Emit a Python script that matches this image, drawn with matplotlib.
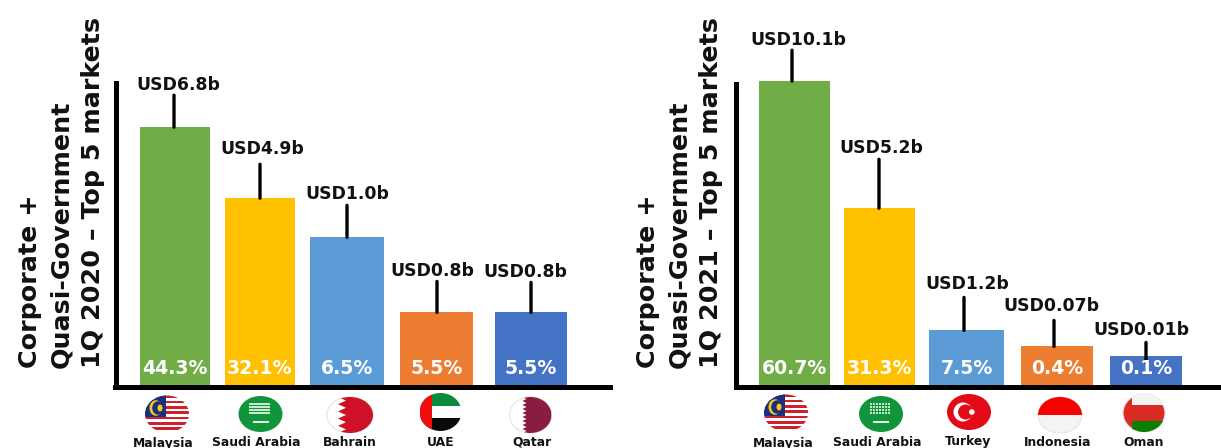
import numpy as np
import matplotlib
matplotlib.use('Agg')
import matplotlib.pyplot as plt
from matplotlib.patches import Ellipse, Rectangle, Polygon, Circle
from matplotlib.transforms import offset_copy

W, H = 1221, 448

# 2020 panel
markets_2020 = ['Malaysia', 'Saudi Arabia', 'Bahrain', 'UAE', 'Qatar']
usd_2020 = [6.8, 4.9, 1.0, 0.8, 0.8]
usd_labels_2020 = ['USD6.8b', 'USD4.9b', 'USD1.0b', 'USD0.8b', 'USD0.8b']
share_labels_2020 = ['44.3%', '32.1%', '6.5%', '5.5%', '5.5%']

# 2021 panel
markets_2021 = ['Malaysia', 'Saudi Arabia', 'Turkey', 'Indonesia', 'Oman']
usd_2021 = [10.1, 5.2, 1.2, 0.07, 0.01]
usd_labels_2021 = ['USD10.1b', 'USD5.2b', 'USD1.2b', 'USD0.07b', 'USD0.01b']
share_labels_2021 = ['60.7%', '31.3%', '7.5%', '0.4%', '0.1%']

bar_colors = ['#70AD47', '#FFC000', '#5B9BD5', '#ED7D31', '#4472C4']

# the value axis is not linear: value -> bar height in pixels
scale_2020 = ([0, 0.8, 1.0, 4.9, 6.8, 8.0, 12.0], [0, 74, 149, 188, 259, 303, 386])
scale_2021 = ([0, 0.01, 0.07, 1.2, 5.2, 10.1, 14.0], [0, 30, 40, 56, 178, 305, 386])

# layout, in pixels
bars_x_2020 = [(140, 210), (225, 295), (310, 384), (400, 473), (495, 567)]
bars_x_2021 = [(759, 830), (844, 915), (929, 1004), (1021, 1093), (1110, 1182)]
leader_x_2020 = [174, 260, 347, 437, 531]
leader_x_2021 = [792, 879, 964, 1054, 1146]
leader_span_2020 = [(0, 32), (0, 34), (0, 32), (0, 31), (0, 30)]
leader_span_2021 = [(0, 31), (0, 49), (0, 33), (0, 26), (-6, 14)]
label_x_2020 = [178, 262, 347, 432, 525]
label_x_2021 = [798, 881, 967, 1051, 1141]
label_y_2020 = [85, 149, 194, 271, 272]
label_y_2021 = [40, 148, 284, 306, 330]
name_x_2020 = [163, 256, 350, 440.5, 532]
name_x_2021 = [783, 877, 968.5, 1058, 1144]
name_y_2020 = [443.5, 442, 442, 442, 442]
name_y_2021 = [443.5, 443, 441, 443, 442]
flag_2020 = [(167, 414, 22, 18.5), (260.5, 414, 22, 18), (350, 415, 23, 18), (440.5, 412, 21, 19), (530.5, 415, 21, 18)]
flag_2021 = [(786, 413, 22, 18.5), (881, 414, 22, 18), (969, 412, 22, 18), (1060, 415, 22, 18), (1144, 413, 21, 19)]

fig = plt.figure(figsize=(W / 100, H / 100), dpi=100)
plt.rcParams['font.family'] = ['DejaVu Sans']

# overlay in pixel coordinates for flags and free text
over = fig.add_axes([0, 0, 1, 1], zorder=5)
over.set_xlim(0, W)
over.set_ylim(H, 0)
over.axis('off')


def draw_panel(x0, x1, markets, values, usd_labels, shares, scale, bars_x,
               leader_x, leader_span, label_x, label_y, name_x, name_y, spine_top):
    ax = fig.add_axes([x0 / W, (H - 386.5) / H, (x1 - x0) / W, 386.5 / H])
    ax.patch.set_alpha(0)
    forward = lambda v: np.interp(v, scale[0], scale[1])
    inverse = lambda h: np.interp(h, scale[1], scale[0])
    ax.set_yscale('function', functions=(forward, inverse))
    ax.set_xlim(x0, x1)
    ax.set_ylim(0, scale[0][-1])

    for i, v in enumerate(values):
        left, right = bars_x[i]
        ax.bar(left, v, width=right - left, align='edge', color=bar_colors[i], linewidth=0)
        ax.text((left + right) / 2, 0, shares[i], transform=offset_copy(ax.transData, fig=fig, y=18, units='dots'),
                color='white', fontweight='bold', fontsize=13.6, ha='center', va='center', zorder=4)

        low, high = leader_span[i]
        ax.annotate('', xy=(leader_x[i], v),
                    xycoords=offset_copy(ax.transData, fig=fig, y=low, units='dots'),
                    xytext=(0, high - low), textcoords='offset pixels',
                    arrowprops=dict(arrowstyle='-', color='black', lw=2.4, shrinkA=0, shrinkB=0),
                    annotation_clip=False, zorder=3)

        over.text(label_x[i], label_y[i], usd_labels[i], fontweight='bold', fontsize=12.4,
                  ha='center', va='center', color='#111111')
        over.text(name_x[i], name_y[i], markets[i], fontweight='bold', fontsize=8.9,
                  ha='center', va='center', color='#111111')

    for side in ['top', 'right']:
        ax.spines[side].set_visible(False)
    for side in ['left', 'bottom']:
        ax.spines[side].set_linewidth(3.6)
    ax.spines['left'].set_bounds(0, spine_top)
    ax.set_xticks([])
    ax.set_yticks([])
    ax.minorticks_off()
    return ax


def flag_clip(cx, cy, rx, ry, face, edge='#E4E4E4'):
    oval = Ellipse((cx, cy), 2 * rx, 2 * ry, facecolor=face, edgecolor=edge, linewidth=0.8)
    over.add_patch(oval)
    return oval


def band(oval, x0, y0, x1, y1, color):
    r = Rectangle((x0, y0), x1 - x0, y1 - y0, facecolor=color, linewidth=0)
    over.add_patch(r)
    r.set_clip_path(oval)
    return r


def serrated(oval, cx, cy, rx, ry, color, x_in, x_out, points):
    # toothed hoist edge used by Bahrain and Qatar
    ys = np.linspace(cy - ry, cy + ry, points)
    xs = [x_out if k % 2 else x_in for k in range(points)]
    pts = list(zip(xs, ys)) + [(cx + rx, cy + ry), (cx + rx, cy - ry)]
    p = Polygon(pts, closed=True, facecolor=color, linewidth=0)
    over.add_patch(p)
    p.set_clip_path(oval)


def malaysia(cx, cy, rx, ry):
    oval = flag_clip(cx, cy, rx, ry, 'white', edge='none')
    n = 14
    step = 2 * ry / n
    for k in range(0, n, 2):
        band(oval, cx - rx, cy - ry + k * step, cx + rx, cy - ry + (k + 1) * step, '#D0202E')
    band(oval, cx - rx, cy - ry, cx - 1, cy - ry + 8 * step, '#1B2F7A')
    over.add_patch(Ellipse((cx - 11, cy - 6), 13, 15.5, facecolor='#F7C81E', linewidth=0))
    over.add_patch(Ellipse((cx - 8.8, cy - 6), 12, 13.5, facecolor='#1B2F7A', linewidth=0))
    over.add_patch(Ellipse((cx - 7, cy - 6), 5, 7, facecolor='#F7C81E', linewidth=0))


def saudi(cx, cy, rx, ry):
    flag_clip(cx, cy, rx, ry, '#10953A', edge='none')
    for dx in np.arange(-10, 11, 3):
        for dy in [-11, -8, -5, -2]:
            over.add_patch(Rectangle((cx + dx - 1.2, cy + dy), 2.4, 2.2, facecolor='#CBE8D2', linewidth=0))
    over.add_patch(Rectangle((cx - 8, cy + 7.5), 16, 1.6, facecolor='#E8F5EA', linewidth=0))


def bahrain(cx, cy, rx, ry):
    oval = flag_clip(cx, cy, rx, ry, 'white')
    serrated(oval, cx, cy, rx, ry, '#CE1126', cx - 12, cx - 4, 11)


def qatar(cx, cy, rx, ry):
    oval = flag_clip(cx, cy, rx, ry, 'white')
    serrated(oval, cx, cy, rx, ry, '#8A1C3F', cx - 8, cx - 4, 19)


def uae(cx, cy, rx, ry):
    oval = flag_clip(cx, cy, rx, ry, 'white', edge='none')
    band(oval, cx - rx, cy - ry, cx + rx, cy - ry * 0.33, '#0B8A3A')
    band(oval, cx - rx, cy + ry * 0.33, cx + rx, cy + ry, '#0A0A0A')
    band(oval, cx - rx, cy - ry, cx - rx * 0.42, cy + ry, '#F20D0D')


def turkey(cx, cy, rx, ry):
    flag_clip(cx, cy, rx, ry, '#E30A17', edge='none')
    over.add_patch(Ellipse((cx - 6, cy), 19, 19, facecolor='white', linewidth=0))
    over.add_patch(Ellipse((cx - 3.4, cy), 15, 15, facecolor='#E30A17', linewidth=0))
    over.add_patch(Circle((cx + 2.8, cy), 2.8, facecolor='white', linewidth=0))


def indonesia(cx, cy, rx, ry):
    oval = flag_clip(cx, cy, rx, ry, '#F4F4F4')
    band(oval, cx - rx, cy - ry, cx + rx, cy - 0.1, '#F70000')


def oman(cx, cy, rx, ry):
    oval = flag_clip(cx, cy, rx, ry, '#DB2B25')
    band(oval, cx - rx * 0.55, cy - ry, cx + rx, cy - ry * 0.4, '#F4F4F4')
    band(oval, cx - rx * 0.55, cy + ry * 0.4, cx + rx, cy + ry, '#0A8000')


flag_draw_2020 = [malaysia, saudi, bahrain, uae, qatar]
flag_draw_2021 = [malaysia, saudi, turkey, indonesia, oman]

draw_panel(115.5, 610, markets_2020, usd_2020, usd_labels_2020, share_labels_2020, scale_2020,
           bars_x_2020, leader_x_2020, leader_span_2020, label_x_2020, label_y_2020,
           name_x_2020, name_y_2020, 8.0)
draw_panel(736, 1221, markets_2021, usd_2021, usd_labels_2021, share_labels_2021, scale_2021,
           bars_x_2021, leader_x_2021, leader_span_2021, label_x_2021, label_y_2021,
           name_x_2021, name_y_2021, 10.0)

for draw, spec in zip(flag_draw_2020 + flag_draw_2021, flag_2020 + flag_2021):
    draw(*spec)

# stacked panel titles along the value axis
over.text(61.5, 368, 'Corporate +\nQuasi-Government\n1Q 2020 – Top 5 markets', rotation=90, fontsize=18.3,
          fontweight='bold', ha='center', va='bottom', multialignment='left', linespacing=1.38, color='#111111')
over.text(679.5, 368, 'Corporate +\nQuasi-Government\n1Q 2021 – Top 5 markets', rotation=90, fontsize=18.3,
          fontweight='bold', ha='center', va='bottom', multialignment='left', linespacing=1.38, color='#111111')

fig.savefig('out.png', dpi=100, facecolor='white')
